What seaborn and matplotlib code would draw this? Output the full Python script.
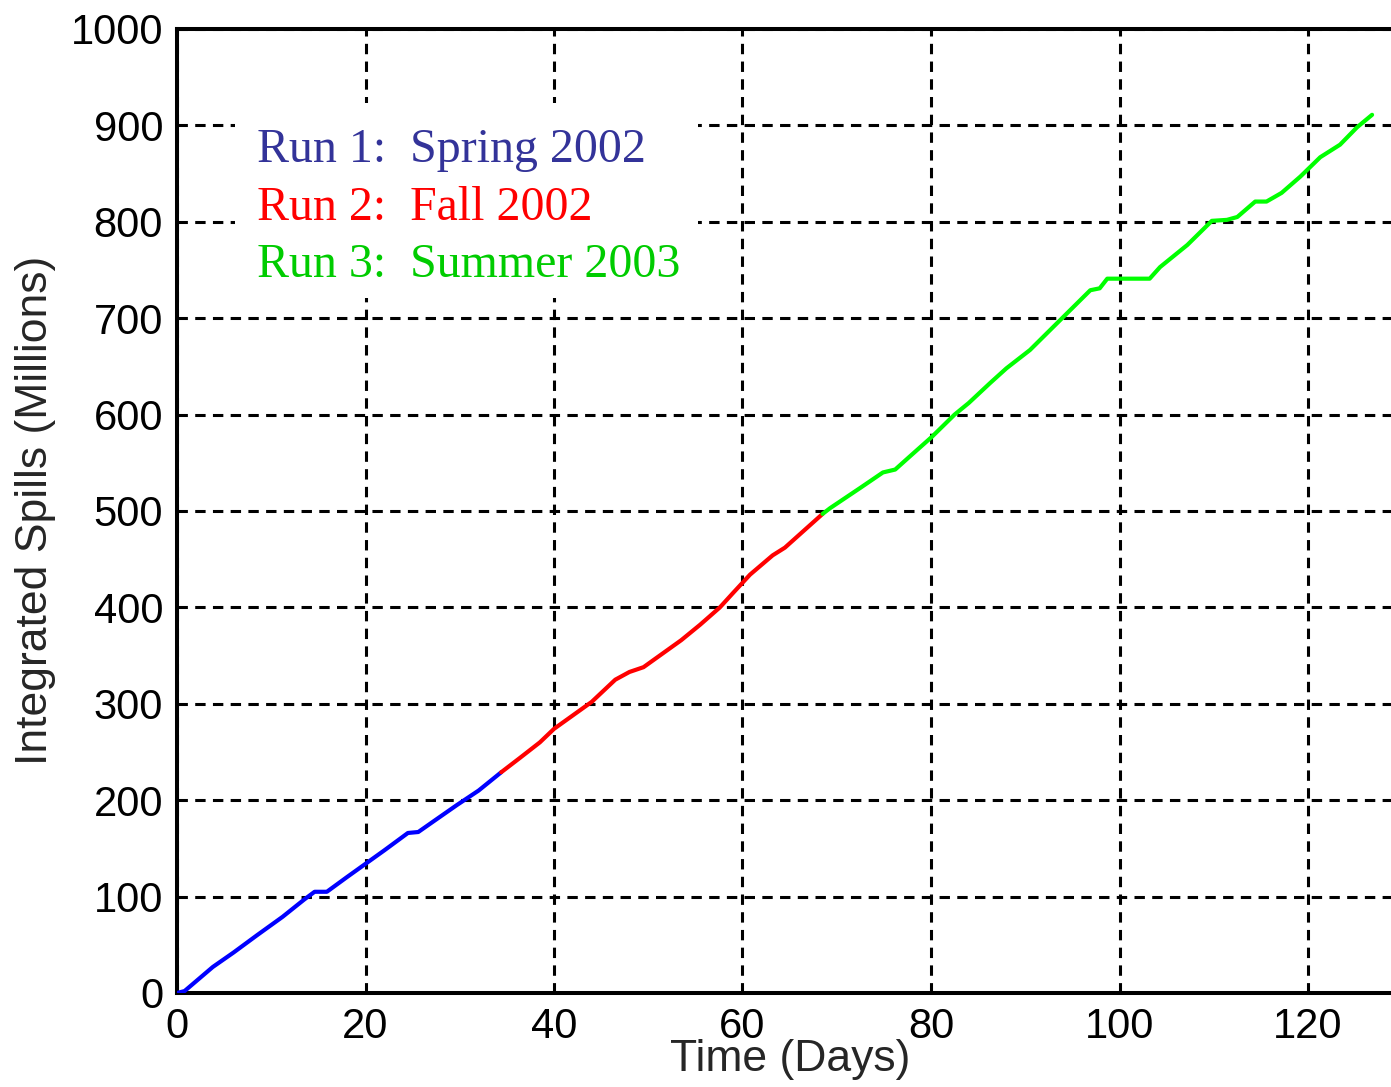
import numpy as np
import pandas as pd
import matplotlib
matplotlib.use("Agg")
import matplotlib.pyplot as plt
import seaborn as sns
from matplotlib.patches import Rectangle

# ---- data ----
run1_days = [0, 0.8, 2, 3.8, 6, 8.5, 11.2, 13.5, 14.6, 15.9, 18, 20, 22, 24.5, 25.6, 27.5, 29.7, 32, 34.4]
run1_spills = [0, 2, 12, 27, 42, 60, 79, 97, 105, 105, 120, 134, 148, 166, 167, 180, 195, 210, 229]

run2_days = [34.4, 36.4, 38.5, 40, 42, 44, 46.5, 48, 49.5, 51.5, 53.5, 55.5, 57.6, 59, 60.8, 63.2, 64.5, 66.1, 68.5]
run2_spills = [229, 244, 260, 274, 288, 302, 325, 333, 338, 352, 366, 382, 400, 415, 434, 454, 462, 476, 497]

run3_days = [68.5, 69.3, 72.5, 74.9, 76.2, 77.8, 80.1, 82.5, 84, 86.3, 88, 90.5, 93.7, 96.9, 97.9, 98.7,
             103.2, 104.3, 107.2, 109.8, 111.4, 112.5, 114.4, 115.6, 117.2, 119.2, 121.3, 123.4, 125.2, 126.8]
run3_spills = [497, 503, 524, 540, 543, 557, 577, 600, 612, 633, 648, 667, 698, 729, 731, 741,
               741, 753, 776, 801, 802, 805, 821, 821, 830, 847, 867, 880, 898, 911]

run_names = ["Run 1", "Run 2", "Run 3"]
run_periods = ["Spring 2002", "Fall 2002", "Summer 2003"]
line_colors = ["#0000ff", "#ff0000", "#00ff00"]
text_colors = ["#333399", "#ff0000", "#00cc00"]

x_ticks = [0, 20, 40, 60, 80, 100, 120]
y_ticks = [0, 100, 200, 300, 400, 500, 600, 700, 800, 900, 1000]

df = pd.concat([
    pd.DataFrame({"Time": run1_days, "Spills": run1_spills, "Run": run_names[0]}),
    pd.DataFrame({"Time": run2_days, "Spills": run2_spills, "Run": run_names[1]}),
    pd.DataFrame({"Time": run3_days, "Spills": run3_spills, "Run": run_names[2]}),
], ignore_index=True)

sns.set_style("white")
plt.rcParams['font.family'] = ['Liberation Sans', 'DejaVu Sans']

W, H = 1391, 1087
fig = plt.figure(figsize=(W / 100, H / 100), dpi=100)
fig.patch.set_facecolor("white")
ax = fig.add_axes([177 / W, 94 / H, 1216 / W, 964 / H])

sns.lineplot(data=df, x="Time", y="Spills", hue="Run",
             palette=dict(zip(run_names, line_colors)),
             linewidth=3.0, sort=False, estimator=None, legend=False, ax=ax, zorder=3)

ax.set_xlim(0, 1216 / 9.425)
ax.set_ylim(0, 1000)
ax.set_xticks(x_ticks)
ax.set_yticks(y_ticks)
ax.tick_params(axis="both", labelsize=30, length=0, pad=10, colors="black")
ax.grid(True, color="black", linewidth=2.2, linestyle=(0, (3.4, 2.4)), zorder=1)
ax.set_axisbelow(True)

for s in ["left", "bottom", "top"]:
    ax.spines[s].set_visible(True)
    ax.spines[s].set_color("black")
    ax.spines[s].set_linewidth(2.9)
ax.spines["right"].set_visible(False)

ax.set_xlabel("Time (Days)", fontsize=32, va="center", ha="center")
ax.set_ylabel("Integrated Spills (Millions)", fontsize=32, va="center", ha="center")
ax.xaxis.set_label_coords((790 - 177) / 1216, (1087 - 1060 - 94) / 964)
ax.yaxis.set_label_coords((35 - 177) / 1216, (1087 - 510 - 94) / 964)

# legend-like text box
def px2ax(px, py):
    return (px - 177) / 1216, (1087 - py - 94) / 964
x0, y0 = px2ax(235, 298)
x1, y1 = px2ax(698, 103)
ax.add_patch(Rectangle((x0, y0), x1 - x0, y1 - y0, transform=ax.transAxes,
                       facecolor="white", edgecolor="none", zorder=2))
rows_y = [150, 208, 265]
for name, period, col, ry in zip(run_names, run_periods, text_colors, rows_y):
    xa, ya = px2ax(257, ry)
    ax.text(xa, ya, name + ":", transform=ax.transAxes, color=col, fontsize=34.5,
            family=["Liberation Serif", "DejaVu Serif"], va="center", ha="left", zorder=4)
    xb, _ = px2ax(410, ry)
    ax.text(xb, ya, period, transform=ax.transAxes, color=col, fontsize=34.5,
            family=["Liberation Serif", "DejaVu Serif"], va="center", ha="left", zorder=4)

fig.savefig("out.png", dpi=100, facecolor="white")
